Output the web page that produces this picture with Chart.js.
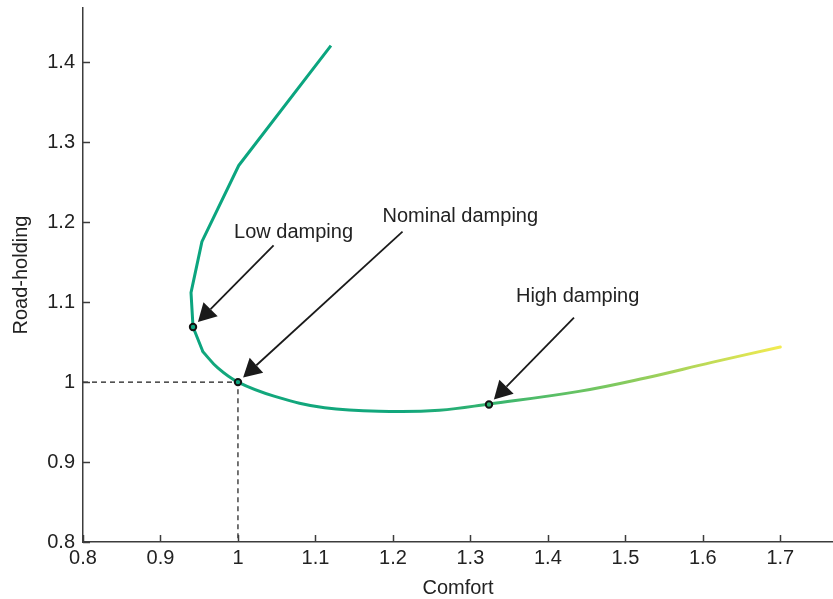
<!DOCTYPE html>
<html>
<head>
<meta charset="utf-8">
<script src="https://cdn.jsdelivr.net/npm/chart.js@4/dist/chart.umd.min.js"></script>
<style>
  html, body { margin: 0; padding: 0; background: #ffffff; }
  canvas { display: block; }
</style>
</head>
<body>
<canvas id="chart" width="833" height="599"></canvas>
<script>
// Comfort / road-holding trade-off as the damping coefficient is swept.
// Upper branch (very low damping) is a coarse polyline.
const upperComfort = [1.12, 1.001, 0.9535, 0.9394, 0.942, 0.9548];
const upperRoad    = [1.421, 1.271, 1.1757, 1.1119, 1.069, 1.038];

// Lower branch (nominal to high damping) is a smooth curve.
const lowerComfort = [0.9548, 0.974, 1.0, 1.0476, 1.1118, 1.1955, 1.26, 1.3242, 1.44, 1.5259, 1.6116, 1.70];
const lowerRoad    = [1.038, 1.0177, 1.0, 0.9822, 0.968, 0.9634, 0.9649, 0.9726, 0.9884, 1.0052, 1.0247, 1.0439];

// Marked damping settings
const markerNames   = ['Low damping', 'Nominal damping', 'High damping'];
const markerComfort = [0.942, 1.0, 1.324];
const markerRoad    = [1.069, 1.0, 0.972];

// Axis ticks
const comfortTicks = [0.8, 0.9, 1.0, 1.1, 1.2, 1.3, 1.4, 1.5, 1.6, 1.7];
const roadTicks    = [0.8, 0.9, 1.0, 1.1, 1.2, 1.3, 1.4];

const zip = (xs, ys) => xs.map((x, i) => ({ x: x, y: ys[i] }));

const TEAL = '#0ba57f';
const AXIS = '#3c3c3c';
const TEXT = '#222222';
const FONT = '"Liberation Sans", Arial, Helvetica, sans-serif';

// Colour of the lower branch shifts from teal to yellow with increasing damping
function lowerGradient(context) {
  const chart = context.chart;
  const area = chart.chartArea;
  const xs = chart.scales.x;
  if (!area || !xs) return TEAL;
  const x0 = xs.getPixelForValue(1.22);
  const x1 = xs.getPixelForValue(1.70);
  const g = chart.ctx.createLinearGradient(x0, 0, x1, 0);
  g.addColorStop(0.00, '#12a77c');
  g.addColorStop(0.22, '#36b46f');
  g.addColorStop(0.48, '#6cc462');
  g.addColorStop(0.70, '#a3d25a');
  g.addColorStop(1.00, '#f3eb50');
  return g;
}

// Inward-pointing tick marks on both axes
const innerTicks = {
  id: 'innerTicks',
  afterDraw(chart) {
    const { ctx, chartArea: a, scales } = chart;
    ctx.save();
    ctx.strokeStyle = AXIS;
    ctx.lineWidth = 1.5;
    ctx.beginPath();
    scales.x.ticks.forEach(t => {
      const px = Math.round(scales.x.getPixelForValue(t.value)) + 0.5;
      ctx.moveTo(px, a.bottom);
      ctx.lineTo(px, a.bottom - 7);
    });
    scales.y.ticks.forEach(t => {
      const py = Math.round(scales.y.getPixelForValue(t.value)) + 0.5;
      ctx.moveTo(a.left, py);
      ctx.lineTo(a.left + 7, py);
    });
    ctx.stroke();
    ctx.restore();
  }
};

// Text labels with arrows pointing at the marked damping settings
const callouts = {
  id: 'callouts',
  afterDatasetsDraw(chart, args, opts) {
    const { ctx, scales: { x, y } } = chart;
    ctx.save();
    opts.items.forEach((item, i) => {
      const mx = x.getPixelForValue(markerComfort[i]);
      const my = y.getPixelForValue(markerRoad[i]);
      const tx = x.getPixelForValue(item.tail[0]);
      const ty = y.getPixelForValue(item.tail[1]);
      const dx = tx - mx, dy = ty - my;
      const len = Math.hypot(dx, dy);
      const ux = dx / len, uy = dy / len;
      const tipX = mx + ux * opts.gap, tipY = my + uy * opts.gap;
      const baseX = tipX + ux * opts.headLength, baseY = tipY + uy * opts.headLength;
      // shaft
      ctx.strokeStyle = '#1a1a1a';
      ctx.lineWidth = 1.8;
      ctx.beginPath();
      ctx.moveTo(tx, ty);
      ctx.lineTo(baseX, baseY);
      ctx.stroke();
      // head
      ctx.fillStyle = '#1a1a1a';
      ctx.beginPath();
      ctx.moveTo(tipX, tipY);
      ctx.lineTo(baseX - uy * opts.headHalfWidth, baseY + ux * opts.headHalfWidth);
      ctx.lineTo(baseX + uy * opts.headHalfWidth, baseY - ux * opts.headHalfWidth);
      ctx.closePath();
      ctx.fill();
      // label
      ctx.fillStyle = TEXT;
      ctx.font = '20px ' + FONT;
      ctx.textAlign = 'left';
      ctx.textBaseline = 'middle';
      ctx.fillText(markerNames[i], x.getPixelForValue(item.label[0]), y.getPixelForValue(item.label[1]));
    });
    ctx.restore();
  }
};

new Chart(document.getElementById('chart'), {
  type: 'scatter',
  data: {
    datasets: [
      {
        // reference lines to the nominal setting
        data: [
          { x: comfortTicks[0], y: markerRoad[1] },
          { x: markerComfort[1], y: markerRoad[1] },
          { x: markerComfort[1], y: roadTicks[0] }
        ],
        showLine: true,
        borderColor: '#1a1a1a',
        borderWidth: 1.2,
        borderDash: [5, 4],
        pointRadius: 0,
        tension: 0,
        order: 4
      },
      {
        data: zip(upperComfort, upperRoad),
        showLine: true,
        borderColor: TEAL,
        borderWidth: 3,
        pointRadius: 0,
        tension: 0,
        borderJoinStyle: 'round',
        order: 3
      },
      {
        data: zip(lowerComfort, lowerRoad),
        showLine: true,
        borderColor: lowerGradient,
        borderWidth: 3,
        pointRadius: 0,
        tension: 0.4,
        borderCapStyle: 'round',
        order: 2
      },
      {
        data: zip(markerComfort, markerRoad),
        showLine: false,
        pointRadius: 3.2,
        pointBorderWidth: 2,
        pointBorderColor: '#111111',
        pointBackgroundColor: ['#0ba57f', '#0ba57f', '#2fb272'],
        order: 1
      }
    ]
  },
  options: {
    responsive: false,
    animation: false,
    events: [],
    layout: { autoPadding: false, padding: { top: 8, right: 0, bottom: 0, left: 0 } },
    plugins: {
      legend: { display: false },
      tooltip: { enabled: false },
      callouts: {
        gap: 7,
        headLength: 18,
        headHalfWidth: 10,
        items: [
          { tail: [1.046, 1.171], label: [0.995, 1.187] },
          { tail: [1.2124, 1.1882], label: [1.1865, 1.2069] },
          { tail: [1.4337, 1.0806], label: [1.3588, 1.1069] }
        ]
      }
    },
    scales: {
      x: {
        type: 'linear',
        min: 0.8,
        max: 1.768,
        afterFit(scale) { scale.height = 57; scale.paddingLeft = 0; scale.paddingRight = 0; },
        afterBuildTicks(scale) { scale.ticks = comfortTicks.map(v => ({ value: v })); },
        grid: { display: false, drawTicks: false },
        border: { display: true, color: AXIS, width: 1.5 },
        ticks: {
          padding: 4,
          color: TEXT,
          font: { family: FONT, size: 20 },
          callback: v => String(Math.round(v * 10) / 10)
        },
        title: {
          display: true,
          text: 'Comfort',
          color: TEXT,
          font: { family: FONT, size: 20 },
          padding: { top: 0, bottom: -1 }
        }
      },
      y: {
        type: 'linear',
        min: 0.8,
        max: 1.468,
        afterFit(scale) { scale.width = 83; scale.paddingTop = 0; scale.paddingBottom = 0; },
        afterBuildTicks(scale) { scale.ticks = roadTicks.map(v => ({ value: v })); },
        grid: { display: false, drawTicks: false },
        border: { display: true, color: AXIS, width: 1.5 },
        ticks: {
          padding: 8,
          color: TEXT,
          font: { family: FONT, size: 20 },
          callback: v => String(Math.round(v * 10) / 10)
        },
        title: {
          display: true,
          text: 'Road-holding',
          color: TEXT,
          font: { family: FONT, size: 20 },
          padding: { top: 9, bottom: 0 }
        }
      }
    }
  },
  plugins: [innerTicks, callouts]
});
</script>
</body>
</html>
